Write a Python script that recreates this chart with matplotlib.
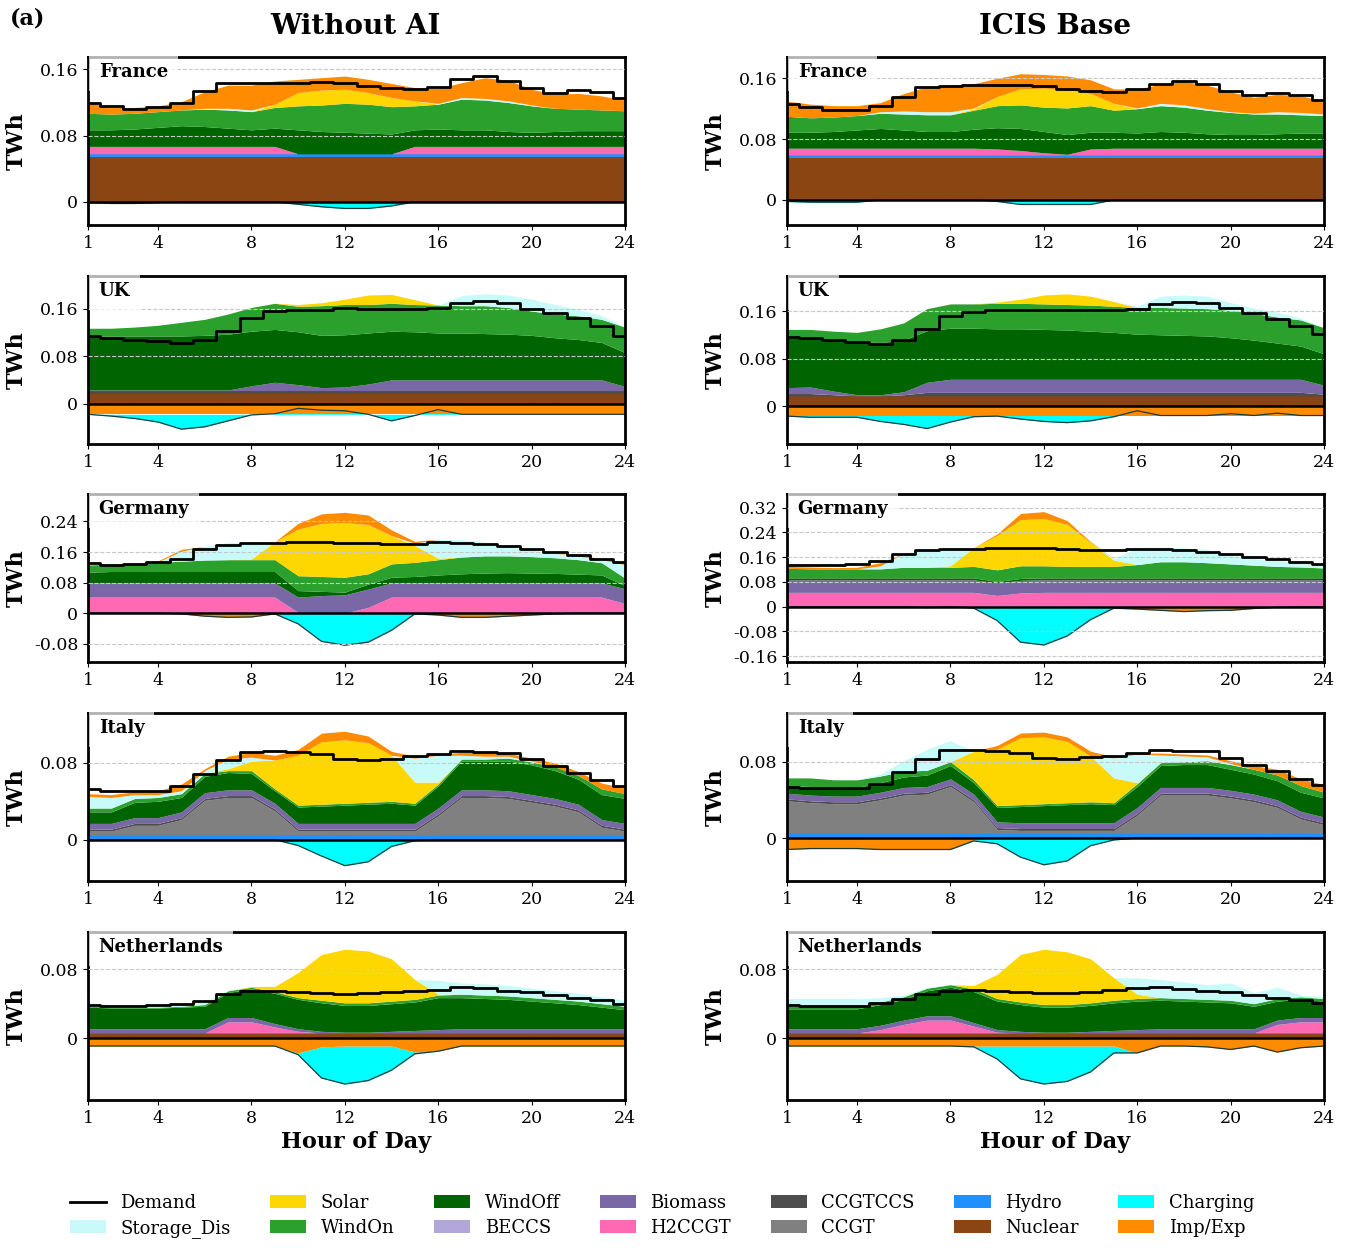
import numpy as np
import matplotlib
matplotlib.use("Agg")
import matplotlib.pyplot as plt
from matplotlib.lines import Line2D
from matplotlib.patches import Patch
from matplotlib.ticker import MultipleLocator, FuncFormatter

plt.rcParams['font.family'] = 'DejaVu Serif'

# hourly values in GWh (converted to TWh when plotted)
hours = list(range(1, 25))

# ---- France, Without AI
fr_a_nuclear = [54, 54, 54, 54, 54, 54, 54, 54, 54, 54, 54, 54, 54, 54, 54, 54, 54, 54, 54, 54, 54, 54, 54, 54]
fr_a_hydro = [4, 4, 4, 4, 4, 4, 4, 4, 4, 4, 4, 4, 4, 4, 4, 4, 4, 4, 4, 4, 4, 4, 4, 4]
fr_a_h2ccgt = [9, 9, 9, 9, 9, 9, 9, 9, 9, 0, 0, 0, 0, 0, 9, 9, 9, 9, 9, 9, 9, 9, 9, 9]
fr_a_windoff = [20, 20, 21, 23, 25, 24, 22, 20, 22, 29, 27, 26, 25, 24, 20, 21, 20, 20, 18, 17, 18, 19, 19, 19]
fr_a_windon = [20, 19, 19, 19, 19, 21, 22, 22, 25, 29, 32, 35, 35, 33, 29, 30, 37, 36, 35, 32, 28, 26, 25, 24]
fr_a_solar = [0, 0, 0, 0, 0, 0, 0, 0, 4, 16, 18, 17, 14, 11, 6, 0, 0, 0, 0, 0, 0, 0, 0, 0]
fr_a_storage = [0, 0, 0, 0, 0, 1, 2, 2, 0, 0, 0, 0, 0, 0, 0, 1, 2, 2, 2, 1, 0, 0, 0, 0]
fr_a_imp = [13, 8, 7, 7, 10, 20, 28, 30, 28, 16, 15, 16, 16, 17, 16, 18, 18, 25, 25, 19, 17, 19, 17, 13]
fr_a_impneg = [0, 0, 0, 0, 0, 0, 0, 0, 0, 0, 0, 0, 0, 0, 0, 0, 0, 0, 0, 0, 0, 0, 0, 0]
fr_a_charging = [-1, -2, -2, -1, 0, 0, 0, 0, 0, -3, -6, -8, -8, -5, 0, 0, 0, 0, 0, 0, 0, 0, 0, 0]
fr_a_demand = [119, 116, 112, 114, 120, 134, 143, 143, 143, 144, 145, 143, 140, 138, 136, 139, 148, 152, 146, 137, 131, 135, 133, 125]

# ---- France, ICIS Base
fr_b_nuclear = [55, 55, 55, 55, 55, 55, 55, 55, 55, 55, 55, 55, 55, 55, 55, 55, 55, 55, 55, 55, 55, 55, 55, 55]
fr_b_hydro = [4, 4, 4, 4, 4, 4, 4, 4, 4, 4, 4, 4, 4, 4, 4, 4, 4, 4, 4, 4, 4, 4, 4, 4]
fr_b_h2ccgt = [9, 9, 9, 9, 9, 9, 9, 9, 9, 8, 6, 3, 1, 8, 9, 9, 9, 9, 9, 9, 9, 9, 9, 9]
fr_b_windoff = [21, 21, 22, 24, 26, 24, 22, 22, 25, 28, 29, 28, 26, 22, 21, 20, 22, 21, 19, 18, 18, 19, 20, 20]
fr_b_windon = [21, 19, 19, 19, 20, 21, 22, 22, 25, 29, 31, 32, 35, 35, 29, 32, 34, 33, 31, 29, 27, 26, 24, 23]
fr_b_solar = [0, 0, 0, 0, 0, 0, 0, 0, 2, 12, 21, 25, 24, 16, 9, 0, 0, 0, 0, 0, 0, 0, 0, 0]
fr_b_storage = [0, 0, 0, 0, 2, 4, 4, 4, 1, 0, 0, 0, 0, 0, 0, 1, 3, 3, 2, 1, 1, 3, 3, 2]
fr_b_imp = [20, 18, 15, 13, 12, 23, 33, 35, 32, 24, 20, 18, 18, 18, 19, 25, 25, 31, 31, 26, 21, 23, 22, 17]
fr_b_impneg = [0, 0, 0, 0, 0, 0, 0, 0, 0, 0, 0, 0, 0, 0, 0, 0, 0, 0, 0, 0, 0, 0, 0, 0]
fr_b_charging = [-2, -3, -3, -3, 0, 0, 0, 0, 0, -2, -6, -6, -6, -6, 0, 0, 0, 0, 0, 0, 0, 0, 0, 0]
fr_b_demand = [126, 122, 118, 118, 124, 135, 148, 150, 151, 151, 151, 150, 146, 143, 142, 146, 152, 157, 152, 143, 138, 141, 138, 131]

# ---- UK, Without AI
uk_a_nuclear = [16, 16, 16, 16, 16, 16, 16, 16, 16, 16, 16, 16, 16, 16, 16, 16, 16, 16, 16, 16, 16, 16, 16, 16]
uk_a_ccgtccs = [6, 6, 6, 6, 6, 6, 6, 6, 6, 6, 6, 6, 6, 6, 6, 6, 6, 6, 6, 6, 6, 6, 6, 6]
uk_a_biomass = [1, 1, 1, 1, 1, 1, 1, 8, 14, 10, 5, 6, 11, 18, 18, 18, 18, 18, 18, 18, 18, 18, 18, 7]
uk_a_windoff = [91, 91, 91, 91, 91, 92, 94, 92, 89, 89, 88, 88, 86, 82, 81, 79, 79, 78, 77, 75, 71, 68, 63, 57]
uk_a_windon = [13, 13, 15, 18, 23, 27, 34, 40, 44, 43, 50, 51, 48, 47, 46, 47, 46, 47, 45, 41, 40, 40, 39, 43]
uk_a_solar = [0, 0, 0, 0, 0, 0, 0, 0, 0, 3, 5, 9, 16, 15, 8, 0, 0, 0, 0, 0, 0, 0, 0, 0]
uk_a_storage = [0, 0, 0, 0, 0, 0, 0, 0, 0, 0, 0, 0, 0, 0, 0, 0, 17, 20, 21, 20, 16, 11, 6, 0]
uk_a_impneg = [-18, -18, -18, -18, -18, -18, -18, -18, -18, -18, -18, -18, -18, -18, -18, -18, -18, -18, -18, -18, -18, -18, -18, -18]
uk_a_charging = [0, -3, -7, -13, -25, -21, -11, -1, 1, 10, 7, 6, 0, -11, -2, 8, 0, 0, 0, 0, 0, 0, 0, 0]
uk_a_demand = [114, 111, 108, 105, 102, 107, 122, 145, 156, 158, 158, 161, 160, 160, 160, 161, 170, 173, 170, 160, 153, 144, 131, 114]

# ---- UK, ICIS Base
uk_b_nuclear = [17, 17, 17, 17, 17, 17, 17, 17, 17, 17, 17, 17, 17, 17, 17, 17, 17, 17, 17, 17, 17, 17, 17, 17]
uk_b_ccgtccs = [4, 4, 2, 0, 0, 2, 6, 6, 6, 6, 6, 6, 6, 6, 6, 6, 6, 6, 6, 6, 6, 6, 6, 3]
uk_b_biomass = [10, 11, 6, 2, 2, 5, 17, 22, 22, 22, 22, 22, 22, 22, 22, 22, 22, 22, 22, 22, 22, 22, 22, 15]
uk_b_windoff = [84, 82, 86, 89, 88, 87, 87, 86, 86, 85, 85, 84, 83, 81, 79, 76, 75, 74, 73, 70, 66, 61, 56, 53]
uk_b_windon = [14, 15, 15, 16, 23, 29, 37, 41, 41, 43, 43, 43, 43, 44, 44, 45, 46, 46, 46, 46, 45, 44, 44, 44]
uk_b_solar = [0, 0, 0, 0, 0, 0, 0, 0, 0, 2, 7, 15, 18, 15, 8, 0, 0, 0, 0, 0, 0, 0, 0, 0]
uk_b_storage = [0, 0, 0, 0, 0, 0, 0, 0, 0, 0, 0, 0, 0, 0, 0, 2, 19, 22, 21, 13, 9, 8, 3, 0]
uk_b_impneg = [-16, -16, -16, -16, -16, -16, -16, -16, -16, -16, -16, -16, -16, -16, -16, -16, -16, -16, -16, -16, -16, -16, -16, -16]
uk_b_charging = [-1, -3, -3, -3, -10, -15, -22, -11, -2, -1, -6, -10, -12, -9, -2, 8, 0, 0, 0, 3, 0, 4, 0, 0]
uk_b_demand = [116, 115, 111, 108, 105, 111, 129, 151, 159, 161, 161, 161, 161, 161, 161, 164, 171, 176, 173, 165, 157, 146, 135, 121]

# ---- Germany, Without AI
de_a_h2ccgt = [42, 42, 42, 42, 42, 42, 42, 42, 42, 2, 0, 0, 15, 42, 42, 42, 42, 42, 42, 42, 42, 42, 42, 25]
de_a_biomass = [37, 37, 37, 37, 37, 37, 37, 37, 37, 40, 46, 48, 48, 37, 37, 37, 37, 37, 37, 37, 37, 37, 37, 39]
de_a_windoff = [28, 30, 30, 30, 30, 30, 30, 30, 30, 17, 11, 7, 13, 15, 17, 21, 24, 26, 27, 26, 25, 23, 21, 8]
de_a_windon = [19, 19, 21, 24, 27, 30, 31, 31, 31, 39, 39, 39, 27, 35, 37, 40, 44, 45, 44, 43, 41, 38, 32, 20]
de_a_solar = [0, 0, 0, 0, 0, 0, 0, 2, 47, 122, 139, 143, 129, 74, 44, 4, 0, 0, 0, 0, 0, 0, 0, 0]
de_a_storage = [0, 0, 0, 2, 26, 36, 45, 43, 0, 0, 0, 0, 0, 0, 6, 50, 45, 36, 25, 17, 12, 9, 8, 35]
de_a_imp = [0, 0, 0, 2, 5, 0, 0, 0, 0, 15, 25, 27, 25, 15, 5, 0, 0, 0, 0, 0, 0, 3, 3, 6]
de_a_impneg = [0, 0, 0, 0, -2, -8, -11, -10, -2, 0, 0, 0, 0, 0, 0, -5, -11, -11, -8, -5, -2, 0, 0, 0]
de_a_charging = [0, 0, 0, 0, 0, 0, 0, 0, 0, -28, -74, -84, -76, -45, -2, 0, 0, 0, 0, 0, 0, 0, 0, 0]
de_a_demand = [131, 126, 129, 133, 142, 168, 178, 184, 184, 187, 185, 184, 183, 181, 181, 185, 184, 181, 175, 168, 159, 151, 142, 135]

# ---- Germany, ICIS Base
de_b_h2ccgt = [46, 46, 46, 46, 46, 46, 46, 46, 46, 36, 44, 46, 46, 46, 46, 46, 46, 46, 46, 46, 46, 46, 46, 46]
de_b_biomass = [41, 41, 41, 41, 41, 41, 41, 41, 41, 40, 41, 41, 41, 41, 41, 41, 41, 41, 41, 41, 41, 41, 41, 41]
de_b_windoff = [6, 6, 6, 6, 6, 6, 6, 6, 6, 5, 6, 6, 6, 6, 6, 6, 6, 6, 6, 6, 6, 6, 6, 6]
de_b_windon = [31, 29, 29, 29, 29, 34, 34, 34, 37, 38, 41, 39, 37, 37, 37, 43, 52, 52, 49, 45, 41, 37, 35, 32]
de_b_solar = [0, 0, 0, 0, 0, 0, 0, 5, 61, 111, 149, 153, 136, 77, 20, 0, 0, 0, 0, 0, 0, 0, 0, 0]
de_b_storage = [0, 0, 0, 0, 10, 45, 58, 55, 0, 0, 0, 0, 0, 0, 5, 55, 47, 45, 43, 28, 21, 20, 14, 7]
de_b_imp = [6, 6, 4, 5, 10, 0, 0, 0, 0, 5, 20, 22, 12, 3, 0, 0, 0, 0, 0, 0, 0, 0, 0, 3]
de_b_impneg = [0, 0, 0, 0, 0, 0, -3, 0, 0, 0, 0, 0, 0, 0, -3, -8, -12, -16, -13, -12, -6, -2, 0, 0]
de_b_charging = [0, 0, 0, 0, 0, 0, 0, 0, -5, -45, -115, -124, -95, -42, -2, 0, 0, 0, 0, 0, 0, 0, 0, 0]
de_b_demand = [134, 134, 134, 138, 148, 170, 183, 186, 186, 188, 191, 188, 186, 183, 183, 186, 186, 183, 177, 170, 161, 154, 145, 138]

# ---- Italy, Without AI
it_a_hydro = [5, 5, 5, 5, 5, 5, 5, 5, 5, 5, 5, 5, 5, 5, 5, 5, 5, 5, 5, 5, 5, 5, 5, 5]
it_a_ccgt = [4, 4, 10, 10, 16, 36, 39, 39, 25, 4, 4, 4, 4, 4, 4, 20, 39, 39, 38, 34, 30, 24, 8, 4]
it_a_ccgtccs = [2, 2, 2, 2, 2, 2, 2, 2, 2, 2, 2, 2, 2, 2, 2, 2, 2, 2, 2, 2, 2, 2, 2, 2]
it_a_biomass = [6, 6, 6, 6, 6, 6, 6, 6, 6, 6, 6, 6, 6, 6, 6, 6, 6, 6, 6, 6, 6, 6, 6, 6]
it_a_windoff = [12, 12, 16, 17, 15, 17, 18, 17, 13, 17, 18, 19, 20, 21, 19, 23, 30, 30, 31, 31, 29, 26, 26, 26]
it_a_windon = [4, 4, 4, 4, 4, 3, 2, 3, 2, 2, 2, 2, 2, 2, 2, 2, 2, 2, 3, 3, 4, 4, 6, 5]
it_a_solar = [0, 0, 0, 0, 0, 0, 2, 10, 30, 52, 65, 66, 62, 48, 22, 2, 0, 0, 0, 0, 0, 0, 0, 0]
it_a_storage = [12, 11, 4, 3, 3, 3, 10, 4, 0, 0, 0, 0, 0, 0, 25, 28, 4, 3, 2, 1, 0, 0, 0, 0]
it_a_imp = [3, 3, 3, 4, 7, 2, 3, 5, 5, 6, 9, 9, 7, 4, 2, 1, 3, 4, 3, 3, 4, 4, 6, 6]
it_a_impneg = [0, 0, 0, 0, 0, 0, 0, 0, 0, 0, 0, 0, 0, 0, 0, 0, 0, 0, 0, 0, 0, 0, 0, 0]
it_a_charging = [0, 0, 0, 0, 0, 0, 0, 0, 0, -6, -17, -27, -23, -7, -1, 0, 0, 0, 0, 0, 0, 0, 0, 0]
it_a_demand = [53, 51, 51, 51, 56, 68, 83, 91, 92, 91, 89, 84, 83, 84, 87, 89, 92, 91, 90, 84, 77, 70, 62, 56]

# ---- Italy, ICIS Base
it_b_hydro = [5, 5, 5, 5, 5, 5, 5, 5, 5, 5, 5, 5, 5, 5, 5, 5, 5, 5, 5, 5, 5, 5, 5, 5]
it_b_ccgt = [34, 32, 31, 31, 35, 40, 41, 49, 33, 4, 3, 3, 3, 3, 3, 19, 40, 40, 40, 37, 33, 27, 15, 9]
it_b_ccgtccs = [2, 2, 2, 2, 2, 2, 2, 2, 2, 2, 2, 2, 2, 2, 2, 2, 2, 2, 2, 2, 2, 2, 2, 2]
it_b_biomass = [6, 6, 6, 6, 6, 6, 6, 6, 6, 6, 6, 6, 6, 6, 6, 6, 6, 6, 6, 6, 6, 6, 6, 6]
it_b_windoff = [8, 9, 9, 9, 10, 11, 12, 14, 12, 15, 17, 18, 19, 20, 19, 22, 23, 24, 24, 22, 21, 20, 20, 20]
it_b_windon = [8, 9, 8, 8, 7, 6, 5, 4, 3, 2, 2, 2, 2, 2, 2, 3, 3, 3, 4, 5, 5, 6, 7, 6]
it_b_solar = [0, 0, 0, 0, 0, 0, 0, 0, 30, 59, 70, 70, 64, 48, 26, 1, 0, 0, 0, 0, 0, 0, 0, 0]
it_b_storage = [0, 0, 0, 0, 2, 11, 22, 22, 0, 0, 0, 0, 0, 0, 21, 30, 8, 6, 4, 1, 0, 0, 0, 0]
it_b_imp = [0, 0, 0, 0, 0, 0, 0, 0, 0, 4, 5, 5, 5, 5, 1, 1, 2, 2, 2, 3, 4, 6, 7, 8]
it_b_impneg = [-12, -11, -11, -11, -12, -12, -12, -12, -2, 0, 0, 0, 0, 0, 0, 0, 0, 0, 0, 0, 0, 0, 0, 0]
it_b_charging = [0, 0, 0, 0, 0, 0, 0, 0, -1, -6, -20, -28, -24, -8, -2, 0, 0, 0, 0, 0, 0, 0, 0, 0]
it_b_demand = [54, 52, 52, 52, 57, 69, 83, 92, 92, 91, 89, 84, 83, 85, 86, 89, 92, 91, 91, 84, 77, 70, 62, 56]

# ---- Netherlands, Without AI
nl_a_nuclear = [6, 6, 6, 6, 6, 6, 6, 6, 6, 6, 6, 6, 6, 6, 6, 6, 6, 6, 6, 6, 6, 6, 6, 6]
nl_a_h2ccgt = [0, 0, 0, 0, 0, 0, 13, 13, 7, 2, 0, 0, 0, 0, 0, 0, 0, 0, 0, 0, 0, 0, 0, 0]
nl_a_biomass = [5, 5, 5, 5, 5, 5, 5, 5, 4, 3, 2, 1, 1, 2, 3, 4, 5, 5, 5, 5, 5, 5, 5, 5]
nl_a_windoff = [25, 24, 24, 24, 25, 26, 29, 33, 35, 34, 33, 31, 31, 32, 33, 37, 36, 35, 34, 32, 30, 28, 25, 22]
nl_a_windon = [1, 1, 1, 1, 1, 2, 2, 2, 2, 2, 3, 3, 3, 3, 3, 3, 4, 4, 4, 4, 4, 4, 4, 4]
nl_a_solar = [0, 0, 0, 0, 0, 0, 0, 1, 6, 29, 53, 62, 60, 49, 23, 1, 0, 0, 0, 0, 0, 0, 0, 0]
nl_a_storage = [4, 3, 3, 4, 4, 3, 1, 0, 0, 0, 0, 0, 0, 0, 0, 16, 13, 13, 12, 11, 10, 9, 8, 7]
nl_a_impneg = [-9, -9, -9, -9, -9, -9, -9, -9, -9, -17, -10, -9, -9, -9, -16, -15, -9, -9, -9, -9, -9, -9, -9, -9]
nl_a_charging = [0, 0, 0, 0, 0, 0, 0, 0, 0, -2, -36, -44, -40, -28, -2, 0, 0, 0, 0, 0, 0, 0, 0, 0]
nl_a_demand = [39, 37, 37, 38, 40, 43, 51, 55, 55, 54, 52, 51, 52, 54, 55, 56, 59, 58, 55, 53, 50, 47, 44, 40]

# ---- Netherlands, ICIS Base
nl_b_nuclear = [6, 6, 6, 6, 6, 6, 6, 6, 6, 6, 6, 6, 6, 6, 6, 6, 6, 6, 6, 6, 6, 6, 6, 6]
nl_b_h2ccgt = [0, 0, 0, 0, 4, 10, 15, 15, 8, 1, 0, 0, 0, 0, 0, 0, 0, 0, 0, 0, 0, 10, 13, 13]
nl_b_biomass = [5, 5, 5, 5, 5, 5, 5, 5, 4, 3, 2, 1, 1, 2, 3, 4, 5, 5, 5, 5, 5, 5, 5, 5]
nl_b_windoff = [23, 23, 23, 23, 24, 24, 29, 33, 36, 33, 31, 29, 29, 30, 32, 33, 33, 32, 31, 30, 26, 22, 21, 19]
nl_b_windon = [3, 3, 3, 3, 3, 3, 3, 3, 3, 3, 3, 3, 3, 3, 3, 3, 3, 3, 3, 3, 3, 3, 3, 3]
nl_b_solar = [0, 0, 0, 0, 0, 0, 0, 0, 4, 28, 55, 64, 61, 51, 26, 5, 0, 0, 0, 0, 0, 0, 0, 0]
nl_b_storage = [9, 9, 9, 9, 5, 2, 1, 0, 0, 0, 0, 0, 0, 0, 0, 19, 21, 19, 17, 20, 13, 13, 2, 2]
nl_b_impneg = [-9, -9, -9, -9, -9, -9, -9, -9, -9, -9, -9, -9, -9, -9, -9, -17, -9, -9, -10, -13, -9, -16, -11, -9]
nl_b_charging = [0, 0, 0, 0, 0, 0, 0, 0, -1, -15, -38, -44, -41, -30, -8, 0, 0, 0, 0, 0, 0, 0, 0, 0]
nl_b_demand = [39, 37, 37, 37, 41, 46, 51, 55, 56, 55, 54, 52, 52, 54, 56, 58, 59, 57, 55, 53, 50, 47, 44, 41]

colors = {
    'Storage_Dis': '#c8fafa', 'Solar': '#ffd700', 'WindOn': '#2ca02c',
    'WindOff': '#006400', 'BECCS': '#b3a6d9', 'Biomass': '#7a68a6',
    'H2CCGT': '#ff69b4', 'CCGTCCS': '#4d4d4d', 'CCGT': '#808080',
    'Hydro': '#1e90ff', 'Nuclear': '#8b4513', 'Charging': '#00ffff',
    'Imp/Exp': '#ff8c00',
}
stack_order = ['Nuclear', 'Hydro', 'CCGT', 'CCGTCCS', 'H2CCGT', 'Biomass', 'BECCS',
               'WindOff', 'WindOn', 'Solar', 'Storage_Dis', 'Imp/Exp']

# (country, column, row, positive series, imp negative, charging, demand, ylim)
panels = [
    ('France', 0, 0, {'Nuclear': fr_a_nuclear, 'Hydro': fr_a_hydro, 'H2CCGT': fr_a_h2ccgt,
                      'WindOff': fr_a_windoff, 'WindOn': fr_a_windon, 'Solar': fr_a_solar,
                      'Storage_Dis': fr_a_storage, 'Imp/Exp': fr_a_imp},
     fr_a_impneg, fr_a_charging, fr_a_demand, (-0.028, 0.175)),
    ('France', 1, 0, {'Nuclear': fr_b_nuclear, 'Hydro': fr_b_hydro, 'H2CCGT': fr_b_h2ccgt,
                      'WindOff': fr_b_windoff, 'WindOn': fr_b_windon, 'Solar': fr_b_solar,
                      'Storage_Dis': fr_b_storage, 'Imp/Exp': fr_b_imp},
     fr_b_impneg, fr_b_charging, fr_b_demand, (-0.033, 0.188)),
    ('UK', 0, 1, {'Nuclear': uk_a_nuclear, 'CCGTCCS': uk_a_ccgtccs, 'Biomass': uk_a_biomass,
                  'WindOff': uk_a_windoff, 'WindOn': uk_a_windon, 'Solar': uk_a_solar,
                  'Storage_Dis': uk_a_storage},
     uk_a_impneg, uk_a_charging, uk_a_demand, (-0.068, 0.215)),
    ('UK', 1, 1, {'Nuclear': uk_b_nuclear, 'CCGTCCS': uk_b_ccgtccs, 'Biomass': uk_b_biomass,
                  'WindOff': uk_b_windoff, 'WindOn': uk_b_windon, 'Solar': uk_b_solar,
                  'Storage_Dis': uk_b_storage},
     uk_b_impneg, uk_b_charging, uk_b_demand, (-0.064, 0.219)),
    ('Germany', 0, 2, {'H2CCGT': de_a_h2ccgt, 'Biomass': de_a_biomass, 'WindOff': de_a_windoff,
                       'WindOn': de_a_windon, 'Solar': de_a_solar, 'Storage_Dis': de_a_storage,
                       'Imp/Exp': de_a_imp},
     de_a_impneg, de_a_charging, de_a_demand, (-0.128, 0.312)),
    ('Germany', 1, 2, {'H2CCGT': de_b_h2ccgt, 'Biomass': de_b_biomass, 'WindOff': de_b_windoff,
                       'WindOn': de_b_windon, 'Solar': de_b_solar, 'Storage_Dis': de_b_storage,
                       'Imp/Exp': de_b_imp},
     de_b_impneg, de_b_charging, de_b_demand, (-0.179, 0.364)),
    ('Italy', 0, 3, {'Hydro': it_a_hydro, 'CCGT': it_a_ccgt, 'CCGTCCS': it_a_ccgtccs,
                     'Biomass': it_a_biomass, 'WindOff': it_a_windoff, 'WindOn': it_a_windon,
                     'Solar': it_a_solar, 'Storage_Dis': it_a_storage, 'Imp/Exp': it_a_imp},
     it_a_impneg, it_a_charging, it_a_demand, (-0.043, 0.132)),
    ('Italy', 1, 3, {'Hydro': it_b_hydro, 'CCGT': it_b_ccgt, 'CCGTCCS': it_b_ccgtccs,
                     'Biomass': it_b_biomass, 'WindOff': it_b_windoff, 'WindOn': it_b_windon,
                     'Solar': it_b_solar, 'Storage_Dis': it_b_storage, 'Imp/Exp': it_b_imp},
     it_b_impneg, it_b_charging, it_b_demand, (-0.045, 0.131)),
    ('Netherlands', 0, 4, {'Nuclear': nl_a_nuclear, 'H2CCGT': nl_a_h2ccgt, 'Biomass': nl_a_biomass,
                           'WindOff': nl_a_windoff, 'WindOn': nl_a_windon, 'Solar': nl_a_solar,
                           'Storage_Dis': nl_a_storage},
     nl_a_impneg, nl_a_charging, nl_a_demand, (-0.0715, 0.123)),
    ('Netherlands', 1, 4, {'Nuclear': nl_b_nuclear, 'H2CCGT': nl_b_h2ccgt, 'Biomass': nl_b_biomass,
                           'WindOff': nl_b_windoff, 'WindOn': nl_b_windon, 'Solar': nl_b_solar,
                           'Storage_Dis': nl_b_storage},
     nl_b_impneg, nl_b_charging, nl_b_demand, (-0.0715, 0.123)),
]

W, H = 1348, 1248
fig = plt.figure(figsize=(W / 100, H / 100), dpi=100)
col_x = [88, 787]
row_y = [57, 276, 494, 713, 932]
ax_w, ax_h = 537, 168

x = np.array(hours)
fmt = FuncFormatter(lambda v, p: '0' if abs(v) < 1e-9 else f'{v:.2f}')

for country, col, row, pos, impneg, charging, demand, ylim in panels:
    ax = fig.add_axes([col_x[col] / W, 1 - (row_y[row] + ax_h) / H, ax_w / W, ax_h / H])

    # positive stack
    base = np.zeros(len(x))
    for name in stack_order:
        if name not in pos:
            continue
        vals = np.array(pos[name]) / 1000.0
        ax.fill_between(x, base, base + vals, color=colors[name], lw=0, zorder=1)
        base = base + vals

    # negative side: exports then charging
    neg = np.array(impneg) / 1000.0
    chg = np.array(charging) / 1000.0
    ax.fill_between(x, neg, neg + chg, color=colors['Charging'], lw=0, zorder=1)
    ax.fill_between(x, 0, neg, color=colors['Imp/Exp'], lw=0, zorder=1.2)
    ax.plot(x, neg + chg, color='#173c3c', lw=0.9, zorder=1.4)

    ax.axhline(0, color='black', lw=1.8, zorder=3)
    ax.plot(x, np.array(demand) / 1000.0, drawstyle='steps-mid', color='black', lw=2, zorder=4)

    ax.set_xlim(1, 24)
    ax.set_ylim(*ylim)
    ax.set_xticks([1, 4, 8, 12, 16, 20, 24])
    ax.yaxis.set_major_locator(MultipleLocator(0.08))
    ax.yaxis.set_major_formatter(fmt)
    ax.set_axisbelow(False)
    ax.yaxis.grid(True, linestyle='--', color='#c8c8c8', lw=0.8)
    ax.tick_params(labelsize=12.5)
    for s in ax.spines.values():
        s.set_linewidth(2)
    ax.set_ylabel('TWh', fontsize=16, fontweight='bold')
    ax.yaxis.set_label_coords(-0.112, 0.5)
    ax.text(0.02, 0.965, country, transform=ax.transAxes, fontsize=13, fontweight='bold',
            va='top', ha='left', zorder=10,
            bbox=dict(boxstyle='square,pad=0.55', facecolor='white', edgecolor='none', alpha=0.7))
    if row == 4:
        ax.set_xlabel('Hour of Day', fontsize=16, fontweight='bold', labelpad=3)

fig.text(355 / W, 1 - 26 / H, 'Without AI', ha='center', va='center', fontsize=20, fontweight='bold')
fig.text(1055 / W, 1 - 26 / H, 'ICIS Base', ha='center', va='center', fontsize=20, fontweight='bold')
fig.text(10 / W, 1 - 18 / H, '(a)', ha='left', va='center', fontsize=16, fontweight='bold')

legend_names = ['Storage_Dis', 'Solar', 'WindOn', 'WindOff', 'BECCS', 'Biomass', 'H2CCGT',
                'CCGTCCS', 'CCGT', 'Hydro', 'Nuclear', 'Charging', 'Imp/Exp']
handles = [Line2D([0], [0], color='black', lw=2, label='Demand')]
handles += [Patch(facecolor=colors[n], label=n) for n in legend_names]
fig.legend(handles=handles, loc='center', bbox_to_anchor=(662 / W, 1 - 1216 / H), ncol=7,
           frameon=False, fontsize=13, columnspacing=2.2, handlelength=2.0, labelspacing=0.4)

fig.savefig('out.png', dpi=100)
